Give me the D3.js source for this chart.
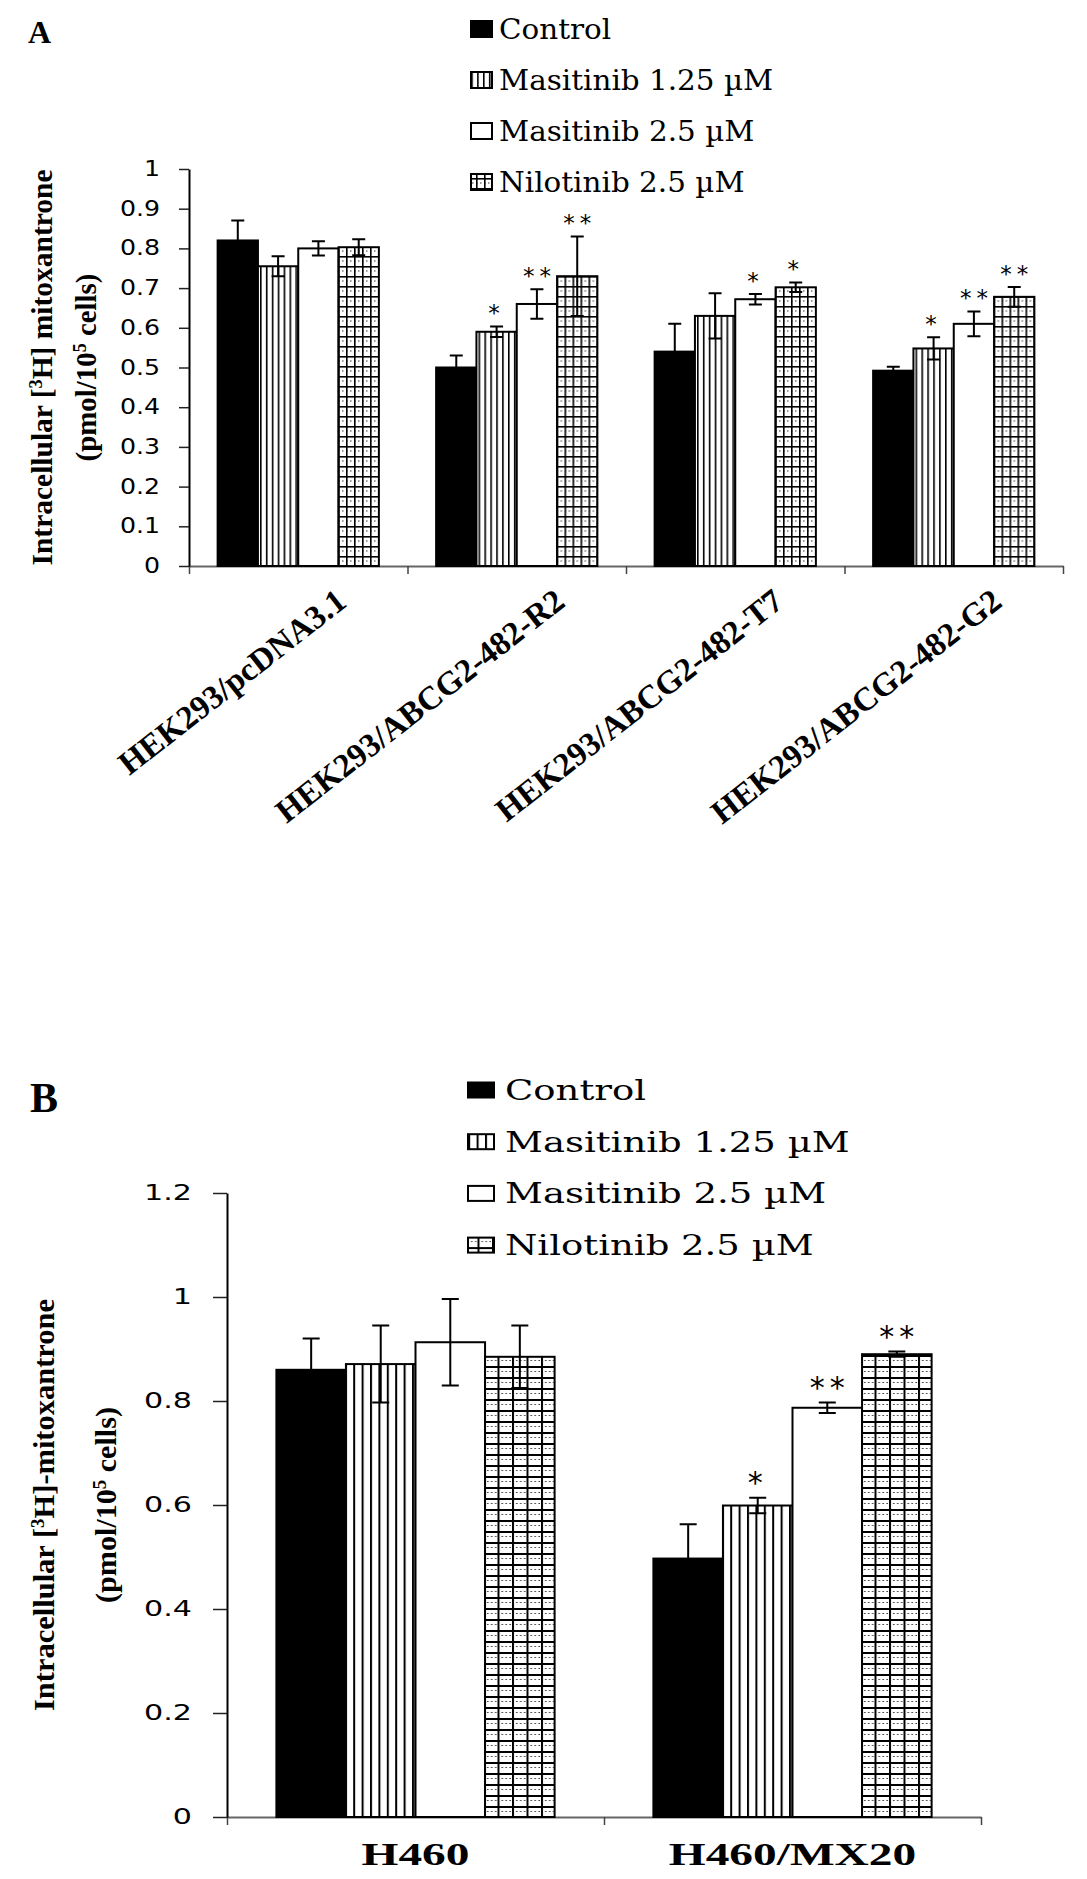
<!DOCTYPE html>
<html>
<head>
<meta charset="utf-8">
<script src="https://cdn.jsdelivr.net/npm/d3@7"></script>
<style>
  body { margin: 0; background: #fff; }
</style>
</head>
<body>
<svg id="fig" width="1087" height="1879"></svg>
<script>
// series shared by both panels
const series = ["Control", "Masitinib 1.25 µM", "Masitinib 2.5 µM", "Nilotinib 2.5 µM"];

// panel A
const groupsA = ["HEK293/pcDNA3.1", "HEK293/ABCG2-482-R2", "HEK293/ABCG2-482-T7", "HEK293/ABCG2-482-G2"];
const meansA = [
    [0.82, 0.755, 0.80, 0.803],
    [0.50, 0.59, 0.66, 0.73],
    [0.54, 0.63, 0.672, 0.702],
    [0.492, 0.548, 0.61, 0.678]
];
const errsA = [
    [0.05, 0.025, 0.018, 0.02],
    [0.03, 0.013, 0.037, 0.10],
    [0.07, 0.057, 0.013, 0.012],
    [0.01, 0.028, 0.031, 0.025]
];
const starsA = [
    ["", "", "", ""],
    ["", "*", "**", "**"],
    ["", "", "*", "*"],
    ["", "*", "**", "**"]
];
const tickValuesA = [0, 0.1, 0.2, 0.3, 0.4, 0.5, 0.6, 0.7, 0.8, 0.9, 1];
const tickLabelsA = ["0", "0.1", "0.2", "0.3", "0.4", "0.5", "0.6", "0.7", "0.8", "0.9", "1"];

// panel B
const groupsB = ["H460", "H460/MX20"];
const meansB = [
    [0.86, 0.871, 0.913, 0.885],
    [0.497, 0.599, 0.787, 0.89]
];
const errsB = [
    [0.06, 0.074, 0.083, 0.06],
    [0.066, 0.015, 0.01, 0.005]
];
const starsB = [
    ["", "", "", ""],
    ["", "*", "**", "**"]
];
const tickValuesB = [0, 0.2, 0.4, 0.6, 0.8, 1, 1.2];
const tickLabelsB = ["0", "0.2", "0.4", "0.6", "0.8", "1", "1.2"];

const svg = d3.select("#fig");
const defs = svg.append("defs");
svg.append("rect").attr("width", 1087).attr("height", 1879).attr("fill", "#fff");

const panelA = {
    id: "a", letter: "A", groups: groupsA, means: meansA, errs: errsA, stars: starsA,
    ticks: tickValuesA, tickLabels: tickLabelsA, yMax: 1,
    left: 189, right: 1063, top: 169, bottom: 566,
    tickLen: 10, tickPad: 19, tickFont: 20.5, tickStretch: 1.23,
    capW: 13, starFont: 23, starGap: 18, starSpacing: 5,
    letterX: 28, letterY: 43, letterSize: 32,
    legendX: 471, legendY: 29, legendStep: 51, swatchW: 21, swatchH: 16, textGap: 7,
    legendFont: 27, legendStretch: 1.09,
    titleSize: 29, title1X: 52, title2X: 96, title1Len: 396, title2Len: 188,
    title1: ["Intracellular [", "3", "H] mitoxantrone"],
    title2: ["(pmol/10", "5", " cells)"],
    vlStep: 5.9, vlLine: 1.6, grW: 8, grH: 5,
    rotated: true, labelFont: 33, labelDx: 50, labelY: 605, labelAngle: -38
};

const panelB = {
    id: "b", letter: "B", groups: groupsB, means: meansB, errs: errsB, stars: starsB,
    ticks: tickValuesB, tickLabels: tickLabelsB, yMax: 1.2,
    left: 227, right: 981, top: 1193, bottom: 1817,
    tickLen: 14, tickPad: 21, tickFont: 20.5, tickStretch: 1.47,
    capW: 17, starFont: 30, starGap: 21, starSpacing: 5,
    letterX: 30, letterY: 1112, letterSize: 42,
    legendX: 468, legendY: 1090, legendStep: 51.7, swatchW: 26, swatchH: 15, textGap: 11,
    legendFont: 27, legendStretch: 1.37,
    titleSize: 30, title1X: 54, title2X: 116, title1Len: 412, title2Len: 196,
    title1: ["Intracellular [", "3", "H]-mitoxantrone"],
    title2: ["(pmol/10", "5", " cells)"],
    vlStep: 8.4, vlLine: 2, grW: 14.5, grH: 5.5,
    rotated: false, labelFont: 32, labelStretch: 1.48, labelY: 1865
};

function addPatterns(p) {
    const vl = defs.append("pattern")
        .attr("id", `vl-${p.id}`)
        .attr("patternUnits", "userSpaceOnUse")
        .attr("x", p.left)
        .attr("width", p.vlStep)
        .attr("height", 20);
    vl.append("rect").attr("width", p.vlStep).attr("height", 20).attr("fill", "#fff");
    vl.append("rect").attr("width", p.vlLine).attr("height", 20).attr("fill", "#000");

    const gr = defs.append("pattern")
        .attr("id", `gr-${p.id}`)
        .attr("patternUnits", "userSpaceOnUse")
        .attr("x", p.left)
        .attr("y", p.bottom)
        .attr("width", p.grW)
        .attr("height", p.grH * 2);
    gr.append("rect").attr("width", p.grW).attr("height", p.grH * 2).attr("fill", "#fff");
    gr.append("rect").attr("width", p.vlLine).attr("height", p.grH * 2).attr("fill", "#000");
    gr.append("rect").attr("width", p.grW).attr("height", p.vlLine).attr("fill", "#000");
    gr.append("line")
        .attr("x1", 0).attr("x2", p.grW)
        .attr("y1", p.grH).attr("y2", p.grH)
        .attr("stroke", "#000").attr("stroke-width", 0.8)
        .attr("stroke-dasharray", "1.5,2.5");
}

function stretchText(sel, factor) {
    sel.each(function() {
        const len = this.getComputedTextLength();
        d3.select(this).attr("textLength", len * factor).attr("lengthAdjust", "spacingAndGlyphs");
    });
}

function drawPanel(p) {
    addPatterns(p);
    const fills = ["#000", `url(#vl-${p.id})`, "#fff", `url(#gr-${p.id})`];
    const g = svg.append("g");

    const x = d3.scaleBand().domain(p.groups).range([p.left, p.right]);
    const xs = d3.scaleBand().domain(series).range([0, x.bandwidth()]).paddingOuter(0.71);
    const y = d3.scaleLinear().domain([0, p.yMax]).range([p.bottom, p.top]);
    const xEdge = d3.scaleLinear().domain([0, p.groups.length]).range([p.left, p.right]);

    // x axis baseline with ticks between categories
    const xAxisG = g.append("g")
        .attr("transform", `translate(0,${p.bottom})`)
        .call(d3.axisBottom(xEdge).ticks(p.groups.length).tickFormat("").tickSize(8).tickSizeOuter(0));
    xAxisG.select(".domain").attr("stroke", "#666").attr("stroke-width", 2.2);
    xAxisG.selectAll(".tick line").attr("stroke", "#444").attr("stroke-width", 1.5);

    // bars
    const rows = p.groups.map((grp, gi) => series.map((s, si) => ({
        grp, s, si, m: p.means[gi][si], e: p.errs[gi][si], star: p.stars[gi][si]
    })));
    const gGroups = g.selectAll("g.grp")
        .data(rows)
        .join("g")
        .attr("class", "grp")
        .attr("transform", (d, i) => `translate(${x(p.groups[i])},0)`);

    gGroups.selectAll("rect")
        .data(d => d)
        .join("rect")
        .attr("x", d => xs(d.s))
        .attr("y", d => y(d.m))
        .attr("width", xs.bandwidth())
        .attr("height", d => y(0) - y(d.m))
        .attr("fill", d => fills[d.si])
        .attr("stroke", "#000")
        .attr("stroke-width", 2);

    // error bars
    gGroups.selectAll("path.err")
        .data(d => d)
        .join("path")
        .attr("class", "err")
        .attr("fill", "none")
        .attr("stroke", "#000")
        .attr("stroke-width", 2)
        .attr("d", d => {
            const cx = xs(d.s) + xs.bandwidth() / 2;
            const y1 = y(d.m + d.e), y2 = y(d.m - d.e), h = p.capW / 2;
            return `M${cx},${y1}V${y2}M${cx - h},${y1}H${cx + h}M${cx - h},${y2}H${cx + h}`;
        });

    // significance stars
    gGroups.selectAll("text.star")
        .data(d => d.filter(r => r.star))
        .join("text")
        .attr("class", "star")
        .attr("x", d => xs(d.s) + xs.bandwidth() / 2 + (d.star.length - 1) * p.starSpacing / 2)
        .attr("y", d => y(d.m + d.e) - p.starGap + 0.55 * p.starFont)
        .attr("text-anchor", "middle")
        .attr("font-family", "DejaVu Sans, Verdana, sans-serif")
        .attr("font-size", p.starFont)
        .attr("letter-spacing", p.starSpacing)
        .text(d => d.star);

    // y axis
    const yAxisG = g.append("g")
        .attr("transform", `translate(${p.left},0)`)
        .call(d3.axisLeft(y)
            .tickValues(p.ticks)
            .tickFormat((d, i) => p.tickLabels[i])
            .tickSize(p.tickLen)
            .tickSizeOuter(0)
            .tickPadding(p.tickPad));
    yAxisG.select(".domain").attr("stroke", "#000").attr("stroke-width", 2);
    yAxisG.selectAll(".tick line").attr("stroke", "#222").attr("stroke-width", 1.5);
    yAxisG.selectAll(".tick text")
        .attr("font-family", "DejaVu Sans, Verdana, sans-serif")
        .attr("font-size", p.tickFont)
        .attr("fill", "#000")
        .call(stretchText, p.tickStretch);

    // category labels
    if (p.rotated) {
        g.selectAll("text.cat")
            .data(p.groups)
            .join("text")
            .attr("class", "cat")
            .attr("text-anchor", "end")
            .attr("font-family", "Liberation Serif, Times New Roman, serif")
            .attr("font-weight", "bold")
            .attr("font-size", p.labelFont)
            .attr("transform", d => `translate(${x(d) + x.bandwidth() / 2 + p.labelDx},${p.labelY}) rotate(${p.labelAngle})`)
            .text(d => d);
    } else {
        g.selectAll("text.cat")
            .data(p.groups)
            .join("text")
            .attr("class", "cat")
            .attr("text-anchor", "middle")
            .attr("font-family", "Liberation Serif, Times New Roman, serif")
            .attr("font-weight", "bold")
            .attr("font-size", p.labelFont)
            .attr("x", d => x(d) + x.bandwidth() / 2)
            .attr("y", p.labelY)
            .text(d => d)
            .call(stretchText, p.labelStretch);
    }

    // y title, two lines
    const midY = (p.top + p.bottom) / 2;
    [[p.title1, p.title1X, p.title1Len], [p.title2, p.title2X, p.title2Len]].forEach(([parts, tx, len]) => {
        const t = g.append("text")
            .attr("transform", `translate(${tx},${midY}) rotate(-90)`)
            .attr("text-anchor", "middle")
            .attr("font-family", "Liberation Serif, Times New Roman, serif")
            .attr("font-weight", "bold")
            .attr("font-size", p.titleSize)
            .attr("textLength", len)
            .attr("lengthAdjust", "spacingAndGlyphs");
        t.append("tspan").text(parts[0]);
        t.append("tspan").attr("baseline-shift", "super").attr("font-size", p.titleSize * 0.62).text(parts[1]);
        t.append("tspan").text(parts[2]);
    });

    // panel letter
    g.append("text")
        .attr("x", p.letterX)
        .attr("y", p.letterY)
        .attr("font-family", "Liberation Serif, Times New Roman, serif")
        .attr("font-weight", "bold")
        .attr("font-size", p.letterSize)
        .text(p.letter);

    // legend
    const leg = g.selectAll("g.leg")
        .data(series)
        .join("g")
        .attr("class", "leg")
        .attr("transform", (d, i) => `translate(${p.legendX},${p.legendY + i * p.legendStep})`);
    leg.append("rect")
        .attr("y", -p.swatchH / 2)
        .attr("width", p.swatchW)
        .attr("height", p.swatchH)
        .attr("fill", (d, i) => fills[i])
        .attr("stroke", "#000")
        .attr("stroke-width", 2);
    leg.append("text")
        .attr("x", p.swatchW + p.textGap)
        .attr("y", 10)
        .attr("font-family", "DejaVu Serif, Georgia, serif")
        .attr("font-size", p.legendFont)
        .text(d => d)
        .call(stretchText, p.legendStretch);
}

drawPanel(panelA);
drawPanel(panelB);
</script>
</body>
</html>
